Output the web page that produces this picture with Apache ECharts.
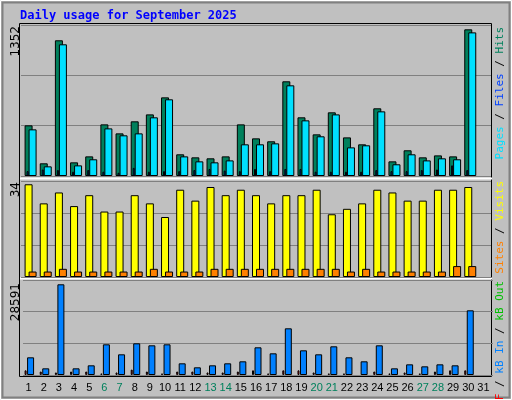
<!DOCTYPE html>
<html><head><meta charset="utf-8">
<script src="https://cdn.jsdelivr.net/npm/echarts@6/dist/echarts.min.js"></script>
<style>html,body{margin:0;padding:0;background:#c0c0c0}#c{width:512px;height:400px}</style>
</head><body><div id="c"></div>
<script>
const days = ['1','2','3','4','5','6','7','8','9','10','11','12','13','14','15','16','17','18','19','20','21','22','23','24','25','26','27','28','29','30','31'];
const weekend = ['6','7','13','14','20','21','27','28'];
const hits  = [467,117,1251,126,181,476,393,504,568,725,200,172,163,181,476,347,320,873,541,384,587,356,292,624,135,237,172,190,181,1352,'-'];
const files = [430,89,1214,98,154,439,375,393,541,707,181,135,126,144,292,292,301,836,513,366,568,264,283,596,108,200,144,163,154,1324,'-'];
const pages = [45,60,55,40,55,40,30,75,40,45,45,55,65,50,45,65,45,65,65,40,40,40,40,55,45,45,55,60,98,55,'-'];
const visits = [34,27,31,26,30,24,24,30,27,22,32,28,33,30,32,30,27,30,30,32,23,25,27,32,31,28,28,32,32,33,'-'];
const sites  = [2,2,3,2,2,2,2,2,3,2,2,2,3,3,3,3,3,3,3,3,3,2,3,2,2,2,2,2,4,4,'-'];
const kbIn = [5571,2100,28591,2100,3050,9670,6517,9985,9355,9670,3680,2420,3050,3680,4310,8724,6832,14714,7778,6517,9040,5571,4310,9355,2100,3363,2733,3363,3050,20390,'-'];
const kbF  = [1470,1100,800,1100,1100,500,800,1700,1100,500,1100,1100,800,800,1100,1470,500,1470,1470,800,500,500,'-',1100,500,800,500,1100,1470,1470,'-'];
const maxLabels = ['1352','34','28591'];

const L=21, W=470;
const panels = [{top:25,h:151,max:1392},{top:181,h:96,max:35.2},{top:280,h:95,max:29947}];
const grids=[], xAxes=[], yAxes=[], series=[];
function addSeries(p, shift, data, color, bw, showAxis){
  const gi = grids.length;
  const P = panels[p];
  grids.push({left:L+shift, width:W, top:P.top, height:P.h});
  xAxes.push({type:'category', gridIndex:gi, data:days, show:showAxis,
    axisLine:{show:false}, axisTick:{show:false},
    axisLabel:{show:showAxis, margin:7, interval:0,
      formatter:v=>weekend.includes(v)?'{w|'+v+'}':'{n|'+v+'}',
      rich:{w:{color:'#00805c',fontFamily:'Liberation Sans',fontSize:11},n:{color:'#000',fontFamily:'Liberation Sans',fontSize:11}}}});
  yAxes.push({type:'value', gridIndex:gi, min:0, max:P.max, interval:P.max/3,
    axisLabel:{show:false}, axisLine:{show:false}, axisTick:{show:false},
    splitLine:{show:false, lineStyle:{color:'#808080',width:1}}});
  series.push({type:'bar', xAxisIndex:gi, yAxisIndex:gi, data:data, barWidth:bw, silent:true,
    animation:false, itemStyle:{color:color, borderColor:'#000', borderWidth:1}});
}
addSeries(0,0,hits,'#00805c',8,false);
addSeries(0,4,files,'#00e0ff',8,false);
addSeries(0,-1,pages,'#0040ff',2,false);
addSeries(1,0,visits,'#ffff00',8,false);
addSeries(1,4,sites,'#ff8000',8,false);
addSeries(2,2,kbIn,'#0080ff',7,false);
addSeries(2,-3,kbF,'#ff0000',2,false);
[0,3,5].forEach(i=>{yAxes[i].splitLine.show=true;});
grids[5].left = L; xAxes[5].show=true; xAxes[5].axisLabel.show=true;
// keep kbIn shift via separate grid: move label axis to kbF-free grid
grids.push({left:L, width:W, top:panels[2].top, height:panels[2].h});
xAxes.push(Object.assign({}, xAxes[5], {gridIndex:7}));
yAxes.push({type:'value', gridIndex:7, show:false, min:0, max:1});
grids[5].left = L+2; xAxes[5].show=false; xAxes[5].axisLabel={show:false};

function vtext(x,y,rich,str){
  return {type:'text', x:x, y:y, rotation:Math.PI/2,
    style:{text:str, rich:rich, align:'right', verticalAlign:'middle', fontFamily:'DejaVu Sans Mono', fontSize:11}};
}
const graphic=[
  {type:'rect', shape:{x:0.5,y:0.5,width:511,height:399}, style:{fill:'none',stroke:'#ffffff',lineWidth:1}},
  {type:'rect', shape:{x:2.5,y:2.5,width:507,height:395}, style:{fill:'none',stroke:'#808080',lineWidth:2}},
  {type:'rect', shape:{x:L-1.5,y:23.5,width:W+2,height:353}, style:{fill:'none',stroke:'#000',lineWidth:1}},
  {type:'line', shape:{x1:L-1,y1:178.5,x2:L+W+1,y2:178.5}, style:{stroke:'#fff',lineWidth:2}},
  {type:'line', shape:{x1:L-1,y1:278.5,x2:L+W+1,y2:278.5}, style:{stroke:'#fff',lineWidth:2}},
  {type:'text', x:20, y:16, style:{text:'Daily usage for September 2025', fill:'#0000ff', font:'bold 12px "DejaVu Sans Mono"', verticalAlign:'middle'}},
  {type:'text', x:16, y:26, rotation:Math.PI/2, style:{text:maxLabels[0], fill:'#000', font:'12px "DejaVu Sans"', align:'right', verticalAlign:'middle'}},
  {type:'text', x:16, y:182, rotation:Math.PI/2, style:{text:maxLabels[1], fill:'#000', font:'12px "DejaVu Sans"', align:'right', verticalAlign:'middle'}},
  {type:'text', x:16, y:283, rotation:Math.PI/2, style:{text:maxLabels[2], fill:'#000', font:'12px "DejaVu Sans"', align:'right', verticalAlign:'middle'}},
  vtext(500,27,{p:{fill:'#00e0ff'},s:{fill:'#000'},f:{fill:'#0040ff'},h:{fill:'#00805c'}},'{p|Pages}{s| / }{f|Files}{s| / }{h|Hits}'),
  vtext(500,181,{o:{fill:'#ff8000'},s:{fill:'#000'},y:{fill:'#ffff00'}},'{o|Sites}{s| / }{y|Visits}'),
  vtext(500,281,{r:{fill:'#ff0000'},s:{fill:'#000'},b:{fill:'#0080ff'},g:{fill:'#00c000'}},'{r|kB F}{s| / }{b|kB In}{s| / }{g|kB Out}')
];
const chart = echarts.init(document.getElementById('c'));
chart.setOption({backgroundColor:'#c0c0c0', animation:false, grid:grids, xAxis:xAxes, yAxis:yAxes, series:series, graphic:graphic});
</script></body></html>
